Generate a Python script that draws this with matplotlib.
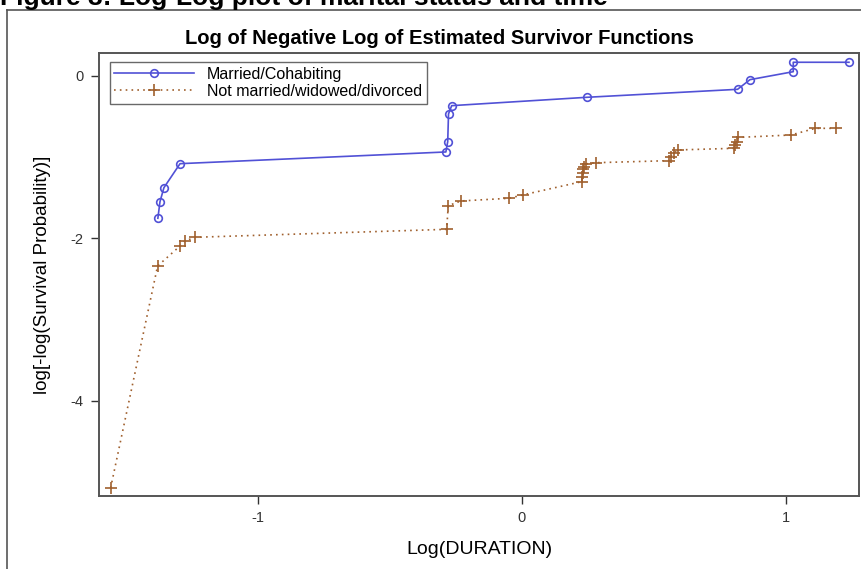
import matplotlib
matplotlib.use("Agg")
import matplotlib.pyplot as plt
from matplotlib.lines import Line2D

plt.rcParams['font.family'] = ['Liberation Sans', 'DejaVu Sans']
plt.rcParams['axes.unicode_minus'] = False

# log(duration) vs log(-log(S(t))) for each marital status group
married_x = [-1.379, -1.371, -1.356, -1.295, -0.288, -0.281, -0.278, -0.266,
             0.247, 0.817, 0.864, 1.028, 1.028, 1.239]
married_y = [-1.755, -1.551, -1.378, -1.083, -0.939, -0.812, -0.471, -0.369,
             -0.266, -0.168, -0.049, 0.049, 0.165, 0.165]

single_x = [-1.558, -1.380, -1.295, -1.277, -1.237, -0.285, -0.279, -0.231,
            -0.049, 0.003, 0.227, 0.227, 0.230, 0.232, 0.235, 0.241, 0.280,
            0.558, 0.563, 0.576, 0.592, 0.803, 0.807, 0.813, 0.820, 1.019,
            1.112, 1.188]
single_y = [-5.075, -2.342, -2.096, -2.034, -1.989, -1.891, -1.600, -1.542,
            -1.509, -1.468, -1.304, -1.243, -1.194, -1.152, -1.120, -1.087,
            -1.071, -1.046, -0.997, -0.955, -0.914, -0.894, -0.853, -0.812,
            -0.760, -0.730, -0.648, -0.648]

x_ticks = [-1, 0, 1]
y_ticks = [0, -2, -4]

W, H = 861, 569
fig = plt.figure(figsize=(W / 100, H / 100), dpi=100)

# outer graph border and the clipped caption above it
fig.add_artist(Line2D([7 / W, 1.0], [1 - 10 / H, 1 - 10 / H],
                      transform=fig.transFigure, color='#555555', lw=1.2))
fig.add_artist(Line2D([7 / W, 7 / W], [1 - 10 / H, 0.0],
                      transform=fig.transFigure, color='#555555', lw=1.2))
fig.text(0 / W, 1 - 5 / H, 'Figure 3: Log-Log plot of marital status and time',
         fontsize=19, fontweight='bold', ha='left', va='baseline')

ax = fig.add_axes([99 / W, 1 - 496 / H, 760 / W, 443 / H])

ax.plot(married_x, married_y, color='#5151d6', lw=1.2, marker='o',
        markersize=5.5, markerfacecolor='none', markeredgewidth=1.2,
        label='Married/Cohabiting')
ax.plot(single_x, single_y, color='#a0602e', lw=1.2, linestyle=(0, (1, 2.5)),
        marker='+', markersize=8, markeredgewidth=1.2,
        label='Not married/widowed/divorced')

ax.set_xlim(-1.602, 1.277)
ax.set_ylim(-5.173, 0.279)
ax.set_xticks(x_ticks)
ax.set_yticks(y_ticks)
ax.tick_params(direction='out', length=6, width=1, labelsize=10.5,
               colors='#333333', pad=5)
for s in ax.spines.values():
    s.set_color('#555555')
    s.set_linewidth(1.4)

ax.set_xlabel('Log(DURATION)', fontsize=14, labelpad=11)
ax.set_ylabel('log[-log(Survival Probability)]', fontsize=13.5, labelpad=14)

fig.text(439 / W, 1 - 38 / H, 'Log of Negative Log of Estimated Survivor Functions',
         fontsize=14.5, fontweight='bold', ha='center', va='center')

leg = ax.legend(loc='upper left', bbox_to_anchor=(0.014, 0.98), fontsize=11.5,
                frameon=True, fancybox=False, borderpad=0.3, labelspacing=0.15,
                handlelength=5.0, handletextpad=0.8, borderaxespad=0)
leg.get_frame().set_edgecolor('#444444')
leg.get_frame().set_linewidth(1.0)

fig.savefig('out.png', dpi=100)
